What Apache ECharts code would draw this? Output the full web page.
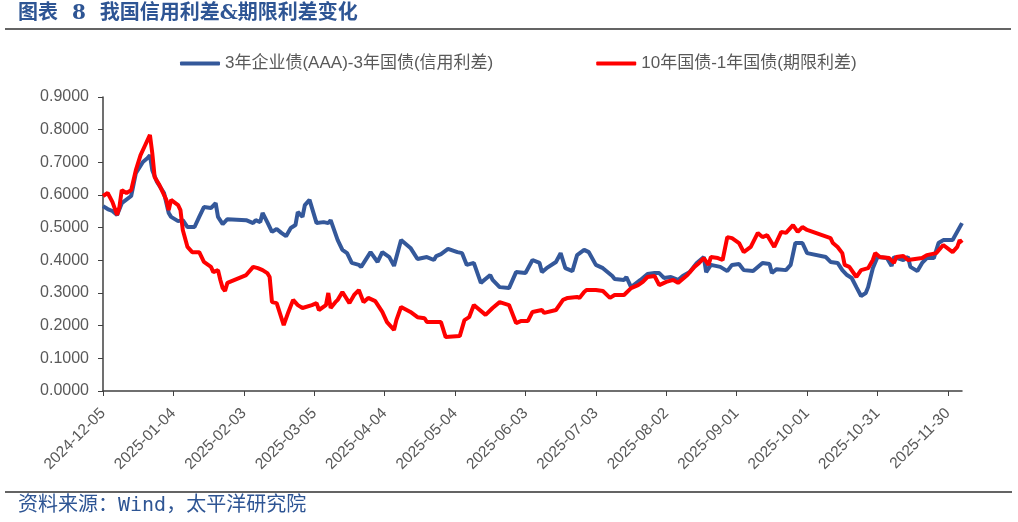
<!DOCTYPE html>
<html>
<head>
<meta charset="utf-8">
<script src="https://cdn.jsdelivr.net/npm/echarts@6/dist/echarts.min.js"></script>
<style>
html,body{margin:0;padding:0;background:#fff}
#main{width:1018px;height:522px}
</style>
</head>
<body>
<div id="main"></div>
<script>
// 3年企业债(AAA)-3年国债
var creditDates = ['2024-12-05','2024-12-07','2024-12-09','2024-12-11','2024-12-13','2024-12-17','2024-12-19','2024-12-22','2024-12-24','2024-12-25',
  '2024-12-26','2024-12-28','2024-12-31','2025-01-02','2025-01-03','2025-01-06','2025-01-08','2025-01-10','2025-01-13','2025-01-15',
  '2025-01-17','2025-01-20','2025-01-22','2025-01-23','2025-01-25','2025-01-27','2025-02-04','2025-02-07','2025-02-08','2025-02-10',
  '2025-02-11','2025-02-13','2025-02-15','2025-02-17','2025-02-19','2025-02-21','2025-02-23','2025-02-25','2025-02-26','2025-02-28',
  '2025-03-01','2025-03-03','2025-03-06','2025-03-09','2025-03-11','2025-03-12','2025-03-15','2025-03-17','2025-03-19','2025-03-21',
  '2025-03-24','2025-03-25','2025-03-29','2025-04-01','2025-04-03','2025-04-06','2025-04-08','2025-04-11','2025-04-15','2025-04-18',
  '2025-04-22','2025-04-25','2025-04-26','2025-04-28','2025-05-01','2025-05-05','2025-05-07','2025-05-09','2025-05-12','2025-05-15',
  '2025-05-19','2025-05-20','2025-05-23','2025-05-27','2025-05-30','2025-06-03','2025-06-06','2025-06-09','2025-06-10','2025-06-12',
  '2025-06-16','2025-06-18','2025-06-20','2025-06-23','2025-06-25','2025-06-28','2025-06-30','2025-07-03','2025-07-06','2025-07-10',
  '2025-07-11','2025-07-15','2025-07-16','2025-07-18','2025-07-22','2025-07-25','2025-07-28','2025-07-30','2025-08-01','2025-08-04',
  '2025-08-07','2025-08-09','2025-08-12','2025-08-15','2025-08-18','2025-08-19','2025-08-21','2025-08-25','2025-08-28','2025-08-30',
  '2025-09-02','2025-09-04','2025-09-08','2025-09-12','2025-09-15','2025-09-16','2025-09-18','2025-09-22','2025-09-24','2025-09-26',
  '2025-09-29','2025-10-01','2025-10-09','2025-10-11','2025-10-14','2025-10-16','2025-10-18','2025-10-20','2025-10-22','2025-10-24',
  '2025-10-26','2025-10-27','2025-10-29','2025-10-31','2025-11-04','2025-11-06','2025-11-07','2025-11-11','2025-11-13','2025-11-14',
  '2025-11-17','2025-11-19','2025-11-21','2025-11-24','2025-11-26','2025-11-28','2025-12-02','2025-12-06'];
var creditValues = [0.566,0.557,0.551,0.539,0.575,0.597,0.667,0.701,0.713,0.722,
  0.676,0.640,0.606,0.545,0.533,0.520,0.523,0.502,0.502,0.533,
  0.563,0.560,0.575,0.533,0.511,0.526,0.523,0.514,0.523,0.517,
  0.545,0.517,0.487,0.496,0.484,0.474,0.499,0.508,0.548,0.533,
  0.569,0.585,0.514,0.517,0.514,0.523,0.462,0.432,0.422,0.392,
  0.386,0.380,0.425,0.395,0.425,0.410,0.383,0.462,0.438,0.404,
  0.410,0.401,0.413,0.419,0.435,0.425,0.422,0.386,0.392,0.331,
  0.355,0.340,0.318,0.315,0.364,0.361,0.401,0.392,0.364,0.376,
  0.395,0.422,0.376,0.367,0.416,0.432,0.425,0.386,0.376,0.352,
  0.343,0.340,0.349,0.318,0.340,0.358,0.361,0.361,0.346,0.349,
  0.340,0.352,0.364,0.392,0.410,0.364,0.386,0.380,0.367,0.386,
  0.389,0.370,0.367,0.392,0.389,0.361,0.373,0.370,0.386,0.453,
  0.453,0.422,0.410,0.395,0.392,0.370,0.355,0.346,0.318,0.291,
  0.300,0.318,0.376,0.410,0.407,0.383,0.410,0.401,0.410,0.380,
  0.367,0.392,0.407,0.407,0.453,0.462,0.462,0.514];

// 10年国债-1年国债
var termDates = ['2024-12-05','2024-12-07','2024-12-09','2024-12-11','2024-12-12','2024-12-13','2024-12-15','2024-12-17','2024-12-19','2024-12-21',
  '2024-12-23','2024-12-25','2024-12-26','2024-12-27','2024-12-29','2025-01-01','2025-01-02','2025-01-03','2025-01-06','2025-01-07',
  '2025-01-08','2025-01-10','2025-01-12','2025-01-15','2025-01-17','2025-01-20','2025-01-21','2025-01-23','2025-01-24','2025-01-25',
  '2025-01-26','2025-01-27','2025-02-04','2025-02-07','2025-02-09','2025-02-11','2025-02-13','2025-02-14','2025-02-15','2025-02-17',
  '2025-02-20','2025-02-22','2025-02-24','2025-02-26','2025-02-28','2025-03-04','2025-03-06','2025-03-07','2025-03-10','2025-03-11',
  '2025-03-12','2025-03-14','2025-03-15','2025-03-17','2025-03-20','2025-03-22','2025-03-24','2025-03-26','2025-03-28','2025-03-31',
  '2025-04-03','2025-04-05','2025-04-08','2025-04-09','2025-04-11','2025-04-15','2025-04-18','2025-04-21','2025-04-22','2025-04-28',
  '2025-04-30','2025-05-06','2025-05-08','2025-05-10','2025-05-12','2025-05-17','2025-05-20','2025-05-23','2025-05-27','2025-05-30',
  '2025-06-01','2025-06-04','2025-06-06','2025-06-10','2025-06-11','2025-06-16','2025-06-19','2025-06-21','2025-06-25','2025-06-26',
  '2025-06-28','2025-06-29','2025-07-03','2025-07-06','2025-07-09','2025-07-11','2025-07-15','2025-07-18','2025-07-21','2025-07-23',
  '2025-07-25','2025-07-28','2025-07-30','2025-08-02','2025-08-05','2025-08-07','2025-08-11','2025-08-14','2025-08-16','2025-08-18',
  '2025-08-20','2025-08-21','2025-08-24','2025-08-26','2025-08-28','2025-08-30','2025-09-02','2025-09-04','2025-09-07','2025-09-10',
  '2025-09-12','2025-09-14','2025-09-17','2025-09-20','2025-09-22','2025-09-25','2025-09-27','2025-09-29','2025-10-01','2025-10-11',
  '2025-10-12','2025-10-14','2025-10-16','2025-10-17','2025-10-19','2025-10-22','2025-10-24','2025-10-27','2025-10-29','2025-10-30',
  '2025-11-01','2025-11-05','2025-11-07','2025-11-08','2025-11-11','2025-11-13','2025-11-19','2025-11-21','2025-11-25','2025-11-28',
  '2025-12-02','2025-12-04','2025-12-05','2025-12-06'];
var termValues = [0.597,0.606,0.579,0.539,0.563,0.615,0.606,0.615,0.676,0.722,
  0.753,0.784,0.728,0.655,0.631,0.585,0.554,0.585,0.569,0.554,
  0.493,0.441,0.425,0.425,0.395,0.380,0.364,0.370,0.340,0.315,
  0.306,0.331,0.355,0.380,0.376,0.370,0.361,0.349,0.272,0.269,
  0.202,0.242,0.279,0.263,0.254,0.263,0.269,0.248,0.263,0.300,
  0.254,0.272,0.279,0.303,0.269,0.294,0.309,0.272,0.285,0.275,
  0.242,0.211,0.187,0.217,0.257,0.242,0.226,0.223,0.211,0.211,
  0.165,0.168,0.217,0.226,0.263,0.233,0.254,0.272,0.263,0.208,
  0.214,0.214,0.242,0.248,0.239,0.248,0.279,0.285,0.288,0.285,
  0.303,0.309,0.309,0.306,0.285,0.294,0.294,0.315,0.324,0.334,
  0.349,0.352,0.324,0.334,0.340,0.331,0.355,0.380,0.392,0.407,
  0.386,0.410,0.407,0.401,0.471,0.468,0.453,0.425,0.441,0.484,
  0.471,0.477,0.441,0.487,0.484,0.508,0.487,0.502,0.493,0.468,
  0.453,0.441,0.422,0.386,0.380,0.349,0.370,0.376,0.401,0.422,
  0.410,0.407,0.392,0.410,0.413,0.401,0.407,0.416,0.422,0.447,
  0.425,0.441,0.462,0.453];

var startDay = '2024-12-05';
var dayCount = 367;

// 每日一个类目,标签每30天一个
var days = [];
var t0 = Date.parse(startDay + 'T00:00:00Z');
for (var i = 0; i < dayCount; i++) {
    days.push(new Date(t0 + i * 86400000).toISOString().slice(0, 10));
}

function pairs(dates, values) {
    return values.map(function (v, i) { return [days.indexOf(dates[i]), v]; });
}

var latin = '"Liberation Sans", "Noto Sans CJK SC", sans-serif';

var option = {
    animation: false,
    backgroundColor: '#ffffff',
    graphic: [
        { type: 'text', left: 18, top: 4,
          style: { text: '图表  8  我国信用利差&期限利差变化', fill: '#2E5594',
                   font: 'bold 20px "DejaVu Serif", "Noto Sans CJK SC"' } },
        { type: 'line', shape: { x1: 5, y1: 29, x2: 1011, y2: 29 },
          style: { stroke: '#303030', lineWidth: 1.5 } },
        { type: 'line', shape: { x1: 5, y1: 492, x2: 1012, y2: 492 },
          style: { stroke: '#303030', lineWidth: 1.5 } },
        { type: 'text', left: 18, top: 496,
          style: { text: '资料来源：Wind，太平洋研究院', fill: '#2E5594',
                   font: '20px "DejaVu Sans Mono", "Noto Sans CJK SC"' } }
    ],
    legend: {
        left: 175,
        top: 50,
        icon: 'roundRect',
        itemWidth: 40,
        itemHeight: 4,
        itemGap: 103,
        textStyle: { fontSize: 17, color: '#595959', fontFamily: latin }
    },
    grid: {
        left: 103,
        right: 56,
        top: 97,
        bottom: 131,
        containLabel: false,
        outerBoundsMode: 'none'
    },
    xAxis: {
        type: 'category',
        data: days,
        boundaryGap: false,
        axisLine: { lineStyle: { color: '#404040', width: 1.5 } },
        axisTick: { interval: 29, length: 5, lineStyle: { color: '#404040' } },
        axisLabel: {
            interval: 29,
            rotate: 45,
            margin: 20,
            fontSize: 15.5,
            color: '#595959',
            fontFamily: latin
        },
        splitLine: { show: false }
    },
    yAxis: {
        type: 'value',
        min: 0,
        max: 0.9,
        interval: 0.1,
        axisLine: { show: true, lineStyle: { color: '#404040', width: 1.5 } },
        axisTick: { show: true, length: 5, lineStyle: { color: '#404040' } },
        axisLabel: {
            margin: 14,
            fontSize: 16,
            color: '#595959',
            fontFamily: latin,
            formatter: function (v) { return v.toFixed(4); }
        },
        splitLine: { show: false }
    },
    series: [
        {
            name: '3年企业债(AAA)-3年国债(信用利差)',
            type: 'line',
            data: pairs(creditDates, creditValues),
            showSymbol: false,
            symbol: 'none',
            lineStyle: { color: '#34589A', width: 4 },
            itemStyle: { color: '#34589A' }
        },
        {
            name: '10年国债-1年国债(期限利差)',
            type: 'line',
            data: pairs(termDates, termValues),
            showSymbol: false,
            symbol: 'none',
            lineStyle: { color: '#FF0000', width: 4 },
            itemStyle: { color: '#FF0000' }
        }
    ]
};

var myChart = echarts.init(document.getElementById('main'));
myChart.setOption(option);
</script>
</body>
</html>
